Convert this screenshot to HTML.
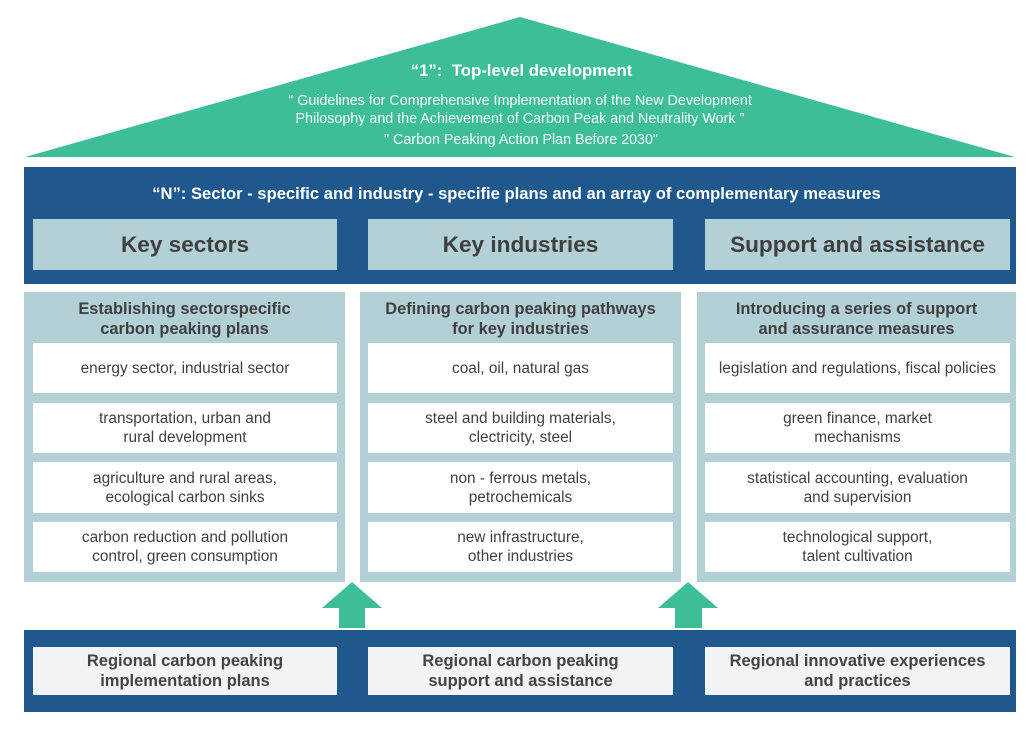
<!DOCTYPE html>
<html><head><meta charset="utf-8"><style>
body{margin:0;width:1035px;height:731px;background:#fff;position:relative;overflow:hidden;font-family:"Liberation Sans",Arial,sans-serif}
div{position:absolute;box-sizing:border-box}
.c{display:flex;align-items:center;justify-content:center;text-align:center}
.k{background:#b2d0d6;color:#3f3f3f;font-weight:bold;font-size:22.6px}
.p{background:#b2d0d6}
.t{color:#3f3f3f;font-weight:bold;font-size:16.4px;line-height:20px;text-align:center}
.w{background:#fff;color:#404040;font-size:15.4px;line-height:19px}
.g{background:#f2f3f3;color:#444;font-weight:bold;font-size:16.5px;line-height:20px}
</style></head><body>
<svg style="position:absolute;left:0;top:0" width="1035" height="731">
<polygon points="520,17 1015,157 25,157" fill="#3dbe99"/>
<polygon points="322,608 352,582 382,608 365,608 365,628 339,628 339,608" fill="#3dbe99"/>
<polygon points="658,608 688,582 718,608 702,608 702,628 675,628 675,608" fill="#3dbe99"/>
</svg>
<div style="left:0;top:61px;width:1043px;text-align:center;color:#fff;font-weight:bold;font-size:16.8px">“1”:&nbsp; Top-level development</div>
<div style="left:0;top:92px;width:1040px;text-align:center;color:#fff;font-size:14.3px;line-height:18px">" Guidelines for Comprehensive Implementation of the New Development<br>Philosophy and the Achievement of Carbon Peak and Neutrality Work "</div>
<div style="left:0;top:132px;width:1042px;text-align:center;color:#fff;font-size:14.3px">" Carbon Peaking Action Plan Before 2030"</div>
<div style="left:24px;top:167px;width:992px;height:117px;background:#1e588c"></div>
<div style="left:0;top:184px;width:1033px;text-align:center;color:#fff;font-weight:bold;font-size:16.6px">“N”: Sector - specific and industry - specifie plans and an array of complementary measures</div>
<div class="c k" style="left:33px;top:219px;width:304px;height:51px">Key sectors</div>
<div class="c k" style="left:368px;top:219px;width:305px;height:51px">Key industries</div>
<div class="c k" style="left:705px;top:219px;width:305px;height:51px">Support and assistance</div>

<div class="p" style="left:24px;top:292px;width:321px;height:290px"></div>
<div class="p" style="left:360px;top:292px;width:321px;height:290px"></div>
<div class="p" style="left:697px;top:292px;width:319px;height:290px"></div>
<div class="t" style="left:24px;top:299px;width:321px">Establishing sectorspecific<br>carbon peaking plans</div>
<div class="t" style="left:360px;top:299px;width:321px">Defining carbon peaking pathways<br>for key industries</div>
<div class="t" style="left:697px;top:299px;width:319px">Introducing a series of support<br>and assurance measures</div>

<div class="c w" style="left:33px;top:343px;width:304px;height:50px">energy sector, industrial sector</div>
<div class="c w" style="left:33px;top:403px;width:304px;height:50px">transportation, urban and<br>rural development</div>
<div class="c w" style="left:33px;top:462px;width:304px;height:51px">agriculture and rural areas,<br>ecological carbon sinks</div>
<div class="c w" style="left:33px;top:522px;width:304px;height:50px">carbon reduction and pollution<br>control, green consumption</div>

<div class="c w" style="left:368px;top:343px;width:305px;height:50px">coal, oil, natural gas</div>
<div class="c w" style="left:368px;top:403px;width:305px;height:50px">steel and building materials,<br>clectricity, steel</div>
<div class="c w" style="left:368px;top:462px;width:305px;height:51px">non - ferrous metals,<br>petrochemicals</div>
<div class="c w" style="left:368px;top:522px;width:305px;height:50px">new infrastructure,<br>other industries</div>

<div class="c w" style="left:705px;top:343px;width:305px;height:50px;white-space:nowrap">legislation and regulations, fiscal policies</div>
<div class="c w" style="left:705px;top:403px;width:305px;height:50px">green finance, market<br>mechanisms</div>
<div class="c w" style="left:705px;top:462px;width:305px;height:51px">statistical accounting, evaluation<br>and supervision</div>
<div class="c w" style="left:705px;top:522px;width:305px;height:50px">technological support,<br>talent cultivation</div>

<div style="left:24px;top:630px;width:992px;height:82px;background:#1e588c"></div>
<div class="c g" style="left:33px;top:647px;width:304px;height:48px">Regional carbon peaking<br>implementation plans</div>
<div class="c g" style="left:368px;top:647px;width:305px;height:48px">Regional carbon peaking<br>support and assistance</div>
<div class="c g" style="left:705px;top:647px;width:305px;height:48px">Regional innovative experiences<br>and practices</div>
</body></html>
